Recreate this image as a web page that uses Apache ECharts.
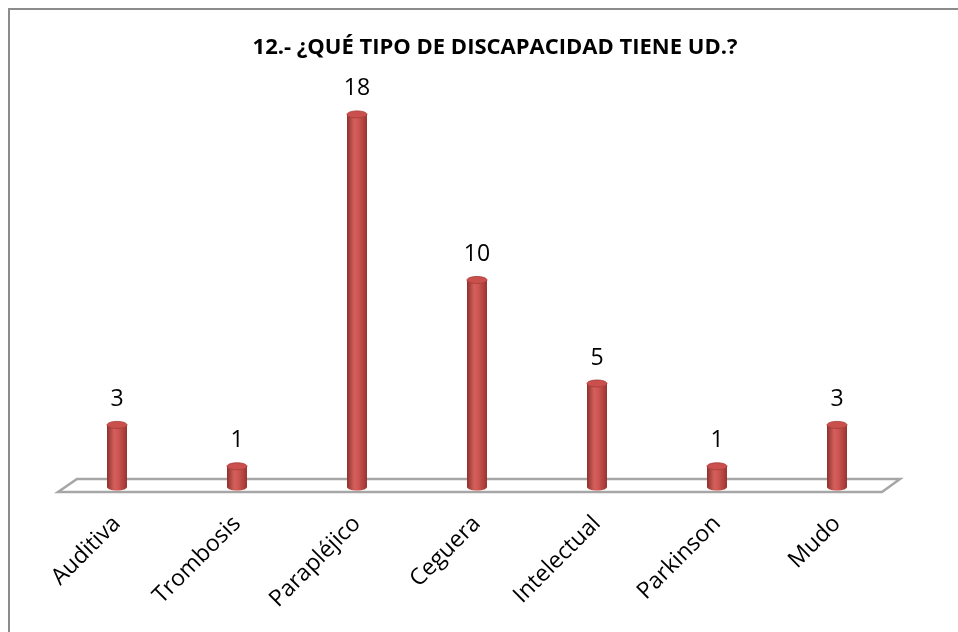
<!DOCTYPE html>
<html>
<head>
<meta charset="utf-8">
<script src="https://cdn.jsdelivr.net/npm/echarts@6/dist/echarts.min.js"></script>
<style>
  html, body { margin: 0; padding: 0; background: #fff; }
  #chart { width: 958px; height: 632px; }
</style>
</head>
<body>
<div id="chart"></div>
<script>
'use strict';
var categories = ['Auditiva', 'Trombosis', 'Parapléjico', 'Ceguera', 'Intelectual', 'Parkinson', 'Mudo'];
var values = [3, 1, 18, 10, 5, 1, 3];
var titleText = '12.- ¿QUÉ TIPO DE DISCAPACIDAD TIENE UD.?';

var fontFam = '"Open Sans", "Noto Sans", sans-serif';
var chart = echarts.init(document.getElementById('chart'));

function cylinder(params, api) {
	var top = api.coord([api.value(0), api.value(1)]),
			base = api.coord([api.value(0), 0]),
			w = 20, rx = w / 2, ry = 3.5;
	var bodyFill = new echarts.graphic.LinearGradient(0, 0, 1, 0, [
		{offset: 0, color: '#8e302d'},
		{offset: 0.35, color: '#d35f5b'},
		{offset: 0.55, color: '#cf5753'},
		{offset: 1, color: '#9a3431'}
	]);
	return {
		type: 'group',
		children: [
			{
				type: 'ellipse',
				shape: {cx: base[0], cy: base[1], rx: rx, ry: ry},
				style: {fill: bodyFill}
			},
			{
				type: 'rect',
				shape: {x: base[0] - rx, y: top[1], width: w, height: base[1] - top[1]},
				style: {fill: bodyFill}
			},
			{
				type: 'ellipse',
				shape: {cx: top[0], cy: top[1], rx: rx, ry: ry},
				style: {fill: '#c9504c', stroke: '#a83c39', lineWidth: 0.8}
			},
			{
				type: 'text',
				style: {
					text: String(api.value(1)),
					x: top[0], y: top[1] - 14,
					align: 'center', verticalAlign: 'bottom',
					font: '23px ' + fontFam, fill: '#000'
				}
			}
		]
	};
}

chart.setOption({
	backgroundColor: '#fff',
	animation: false,
	title: {
		text: titleText,
		left: 490, top: 32, textAlign: 'center',
		textStyle: {fontFamily: fontFam, fontSize: 22, fontWeight: 'bold', color: '#000'}
	},
	grid: {left: 57, right: 61, top: 73, bottom: 145},
	xAxis: {
		type: 'category',
		data: categories,
		axisLine: {show: false},
		axisTick: {show: false},
		axisLabel: {
			rotate: 45, margin: 33, interval: 0,
			fontFamily: fontFam, fontSize: 23, color: '#000'
		}
	},
	yAxis: {
		type: 'value', min: 0, max: 20,
		show: false
	},
	series: [{
		type: 'custom',
		renderItem: cylinder,
		data: values.map(function (v, i) { return [i, v]; }),
		z: 10
	}]
});

// frame and floor of the chart
var b0 = chart.convertToPixel({gridIndex: 0}, [0, 0]),
		b6 = chart.convertToPixel({gridIndex: 0}, [6, 0]);
var fl = b0[0] - 59, fr = b6[0] + 63;
chart.setOption({
	graphic: [
		{
			type: 'rect', z: -10,
			shape: {x: 9, y: 9, width: 1000, height: 700},
			style: {fill: '#fff', stroke: '#8c8c8c', lineWidth: 2}
		},
		{
			type: 'polygon', z: 0,
			shape: {points: [[fl, b0[1] + 5], [fr - 18, b0[1] + 5], [fr, b0[1] - 8], [fl + 19, b0[1] - 8]]},
			style: {fill: '#fff', stroke: '#a6a6a6', lineWidth: 2.5}
		}
	]
});
</script>
</body>
</html>
